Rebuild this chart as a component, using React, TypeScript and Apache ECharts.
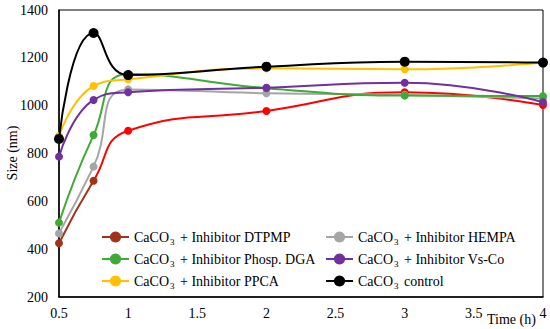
import React, { useEffect, useRef } from "react";
import * as echarts from "echarts";

const times = [0.5, 0.75, 1, 2, 3, 4];
const seriesNames = [
  "CaCO₃ + Inhibitor DTPMP",
  "CaCO₃ + Inhibitor HEMPA",
  "CaCO₃ + Inhibitor Phosp. DGA",
  "CaCO₃ + Inhibitor Vs-Co",
  "CaCO₃ + Inhibitor PPCA",
  "CaCO₃ control",
];
const dtpmp = [425, 686, 895, 978, 1056, 1003];
const hempa = [466, 745, 1068, 1052, 1045, 1030];
const phospDga = [511, 877, 1132, 1073, 1042, 1040];
const vsCo = [787, 1024, 1056, 1075, 1096, 1014];
const ppca = [873, 1082, 1110, 1156, 1152, 1180];
const control = [861, 1304, 1128, 1163, 1184, 1180];
const xTicks = [0.5, 1, 1.5, 2, 2.5, 3, 3.5, 4];
const yTicks = [200, 400, 600, 800, 1000, 1200, 1400];
const yTitle = "Size (nm)";
const xTitle = "Time (h)";

const FONT = "'Liberation Serif', 'Times New Roman', serif";

export default function App() {
  const ref = useRef<HTMLDivElement>(null);
  useEffect(() => {
    document.body.style.margin = "0";
    const chart = echarts.init(ref.current!, null, { renderer: "svg" });
    const values = [dtpmp, hempa, phospDga, vsCo, ppca, control];
    const colors = ["#FF0000", "#A5A5A5", "#3FAA35", "#7030A0", "#FFC000", "#000000"];
    const markerColors = ["#A0341A", "#A5A5A5", "#3FAA35", "#7030A0", "#FFC000", "#000000"];
    const series = values.map((vals, i) => {
      const isDt = i === 0;
      return {
        type: "line",
        name: seriesNames[i],
        smooth: 0.5,
        symbol: "circle",
        symbolSize: i === 5 ? 10 : 8,
        z: i === 5 ? 10 : 2 + i,
        lineStyle: {
          width: 2,
          color: isDt
            ? new echarts.graphic.LinearGradient(0, 0, 1, 0, [
                { offset: 0, color: "#A0341A" },
                { offset: 0.07, color: "#A0341A" },
                { offset: 0.075, color: "#FF0000" },
                { offset: 1, color: "#FF0000" },
              ])
            : colors[i],
        },
        itemStyle: { color: markerColors[i] },
        data: vals.map((v, k) =>
          isDt && k >= 2
            ? { value: [times[k], v], itemStyle: { color: "#FF0000" } }
            : { value: [times[k], v] }
        ),
      };
    });
    const legendText = {
      fontFamily: FONT,
      fontSize: 14,
      color: "#000",
      rich: {
        s: { fontFamily: FONT, fontSize: 9, color: "#000", padding: [9, 2, 0, 1], verticalAlign: "bottom" },
      },
    };
    const fmt = (name: string) => name.replace("₃", "{s|3}");
    const legendItem = (i: number) =>
      i === 0
        ? { name: seriesNames[0], lineStyle: { color: "#A0341A", width: 2 } }
        : { name: seriesNames[i] };
    const legendBase = {
      orient: "vertical",
      top: 230,
      padding: 0,
      itemGap: 6,
      itemWidth: 27,
      itemHeight: 14,
      textStyle: legendText,
      formatter: fmt,
    };
    chart.setOption({
      animation: false,
      backgroundColor: "#fff",
      textStyle: { fontFamily: FONT },
      grid: {
        left: 59,
        right: 7,
        top: 10,
        bottom: 32,
        containLabel: false,
        outerBoundsMode: "none",
        show: true,
        borderColor: "#000",
        borderWidth: 1,
      },
      legend: [
        { ...legendBase, left: 101, data: [legendItem(0), legendItem(2), legendItem(4)] },
        { ...legendBase, left: 325, data: [legendItem(1), legendItem(3), legendItem(5)] },
      ],
      xAxis: {
        type: "value",
        min: 0.5,
        max: 4,
        interval: 0.5,
        axisLine: { lineStyle: { color: "#000", width: 1.5 } },
        axisTick: { show: false },
        splitLine: { show: false },
        axisLabel: {
          color: "#000",
          fontSize: 14,
          fontFamily: FONT,
          margin: 9,
          formatter: (v: number) => (xTicks.includes(v) ? String(v) : ""),
        },
      },
      yAxis: {
        type: "value",
        min: 200,
        max: 1400,
        interval: 200,
        axisLine: { show: true, lineStyle: { color: "#000", width: 1.5 } },
        axisTick: { show: false },
        splitLine: { show: false },
        axisLabel: {
          color: "#000",
          fontSize: 14,
          fontFamily: FONT,
          margin: 11,
          formatter: (v: number) => (yTicks.includes(v) ? String(v) : ""),
        },
      },
      graphic: [
        {
          type: "text",
          x: 12,
          y: 153,
          rotation: Math.PI / 2,
          style: {
            text: yTitle,
            fill: "#000",
            font: `14px ${FONT}`,
            align: "center",
            verticalAlign: "middle",
          },
        },
        {
          type: "text",
          left: 487,
          top: 312,
          style: { text: xTitle, fill: "#000", font: `14px ${FONT}` },
        },
      ],
      series,
    });
    return () => chart.dispose();
  }, []);
  return <div ref={ref} style={{ width: 550, height: 329 }} />;
}
